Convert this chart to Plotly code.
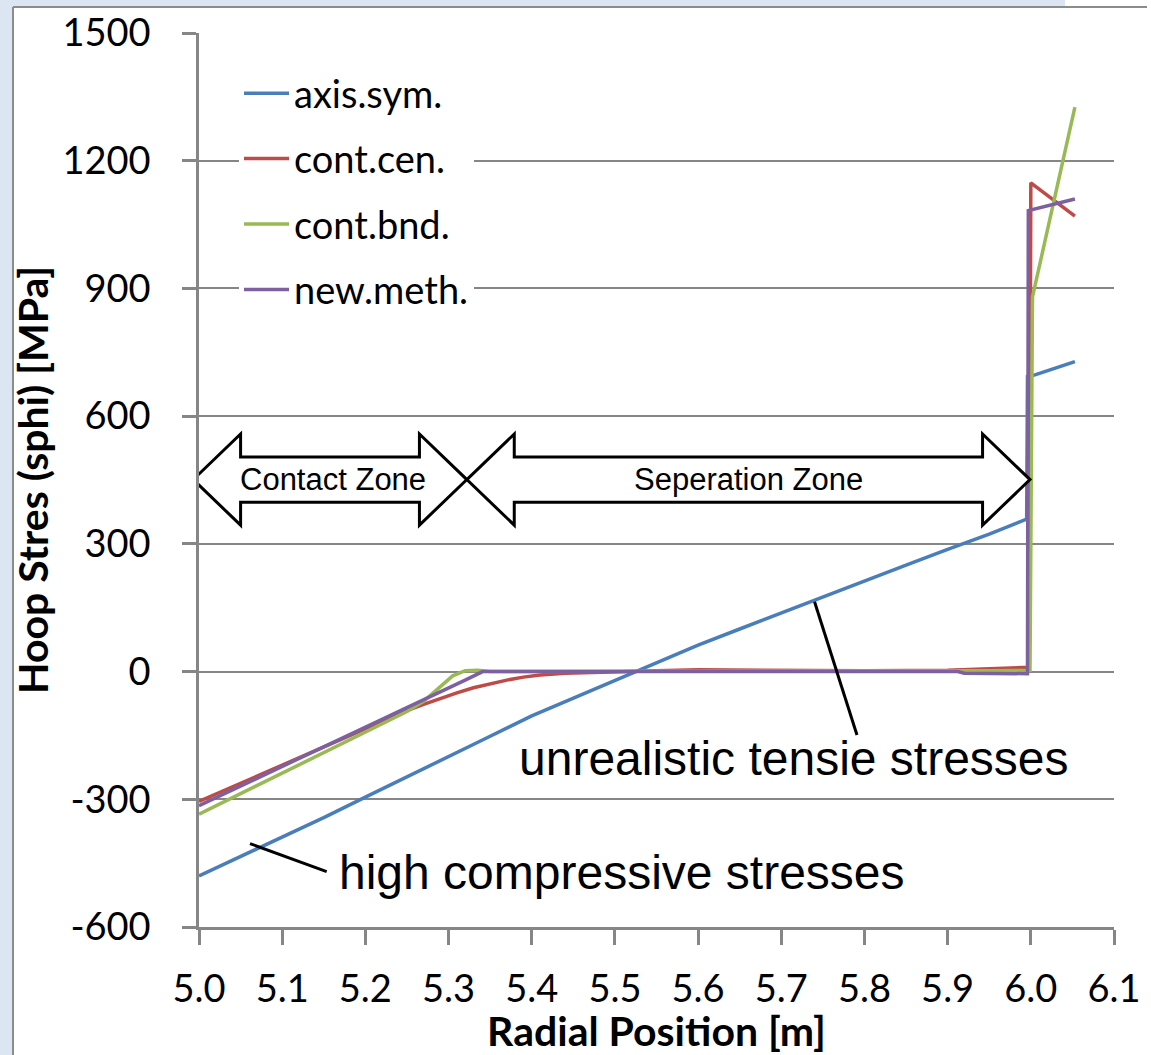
import plotly.graph_objects as go

# ---------------- data ----------------
axis_sym_x = [5.00, 5.05, 5.10, 5.15, 5.20, 5.25, 5.30, 5.35, 5.40, 5.45, 5.50, 5.55,
              5.60, 5.65, 5.70, 5.75, 5.80, 5.85, 5.90, 5.95, 5.995, 5.996, 6.005, 6.053]
axis_sym_y = [-480, -435, -390, -343, -295, -248, -200, -152, -104, -62, -22, 22,
              62, 100, 138, 176, 213, 250, 287, 323, 358, 693, 697, 728]

cont_cen_x = [5.00, 5.05, 5.10, 5.15, 5.20, 5.25, 5.27, 5.29, 5.31, 5.33, 5.35, 5.37,
              5.39, 5.41, 5.44, 5.47, 5.50, 5.55, 5.60, 5.65, 5.70, 5.80, 5.90, 5.95,
              5.998, 6.000, 6.053]
cont_cen_y = [-305, -262, -220, -177, -134, -92, -77, -63, -50, -38, -28, -20,
              -13, -8, -4, -2, 0, 2, 4, 3, 2, 2, 3, 6,
              10, 1148, 1070]

cont_bnd_x = [5.00, 5.05, 5.10, 5.15, 5.20, 5.25, 5.27, 5.29, 5.305, 5.32, 5.335, 5.35,
              5.50, 5.70, 5.90, 5.95, 5.999, 6.002, 6.053]
cont_bnd_y = [-335, -287, -239, -191, -143, -94, -70, -35, -10, 2, 3, 0,
              0, 0, 0, 2, 3, 880, 1326]

new_meth_x = [5.00, 5.05, 5.10, 5.15, 5.20, 5.25, 5.28, 5.30, 5.32, 5.341, 5.50, 5.70,
              5.912, 5.92, 5.996, 5.997, 6.053]
new_meth_y = [-315, -269, -224, -178, -132, -86, -58, -40, -20, 0, 0, 0,
              0, -4, -5, 1083, 1110]

series_names = ["axis.sym.", "cont.cen.", "cont.bnd.", "new.meth."]
series_colors = ["#4A7EBB", "#BE4B48", "#98B954", "#7D60A0"]

x_ticks = [5.0, 5.1, 5.2, 5.3, 5.4, 5.5, 5.6, 5.7, 5.8, 5.9, 6.0, 6.1]
y_ticks = [-600, -300, 0, 300, 600, 900, 1200, 1500]

# zone arrows (data units)
contact_zone = (4.993, 5.322)
separation_zone = (5.322, 5.999)
zone_y = 451
shaft_half = 53
head_half = 107
head_len = 0.057

# ---------------- figure ----------------
W, H = 1151, 1055
L, R, T, B = 199, 37, 33, 128
PW, PH = W - L - R, H - T - B


def px(xp):
    return (xp - L) / PW


def py(yp):
    return (H - B - yp) / PH


fig = go.Figure()
xs = [axis_sym_x, cont_cen_x, cont_bnd_x, new_meth_x]
ys = [axis_sym_y, cont_cen_y, cont_bnd_y, new_meth_y]
for name, col, xv, yv in zip(series_names, series_colors, xs, ys):
    fig.add_trace(go.Scatter(x=xv, y=yv, mode="lines", name=name, legendgroup=name,
                             line=dict(color=col, width=3.5)))

TICKFONT = dict(family="Lato", size=38, color="black")
TITLEFONT = dict(family="Lato", size=41, color="black")

fig.update_xaxes(range=[5.0, 6.1], tickvals=x_ticks, ticktext=[f"{v:.1f}" for v in x_ticks],
                 showgrid=False, zeroline=False, showline=True, linecolor="#868686", linewidth=2.5,
                 ticks="outside", ticklen=15, tickwidth=2.5, tickcolor="#868686",
                 tickfont=TICKFONT, ticklabelstandoff=12,
                 title=dict(text="<b>Radial Position [m]</b>", font=TITLEFONT, standoff=0))
fig.update_yaxes(range=[-600, 1500], tickvals=y_ticks, ticktext=[str(v) for v in y_ticks],
                 showgrid=True, gridcolor="#868686", gridwidth=1.5, zeroline=False,
                 showline=True, linecolor="#868686", linewidth=2.5,
                 ticks="outside", ticklen=14, tickwidth=2.5, tickcolor="#868686",
                 tickfont=TICKFONT, ticklabelstandoff=24,
                 title=dict(text="<b>Hoop Stres (sphi) [MPa]</b>", font=TITLEFONT, standoff=2))

shapes = []
# outer light-blue frame and grey border
shapes.append(dict(type="rect", xref="paper", yref="paper", x0=px(0), x1=px(13), y0=py(H), y1=py(0),
                   fillcolor="#DCE6F2", line=dict(width=0), layer="above"))
shapes.append(dict(type="rect", xref="paper", yref="paper", x0=px(0), x1=px(1065), y0=py(7), y1=py(0),
                   fillcolor="#DCE6F2", line=dict(width=0), layer="above"))
shapes.append(dict(type="line", xref="paper", yref="paper", x0=px(13), x1=px(13), y0=py(H), y1=py(7),
                   line=dict(color="#8C8C8C", width=2), layer="above"))
shapes.append(dict(type="line", xref="paper", yref="paper", x0=px(13), x1=px(1147), y0=py(7), y1=py(7),
                   line=dict(color="#8C8C8C", width=2), layer="above"))


def double_arrow(xa, xb):
    yc = zone_y
    pts = [(xa, yc), (xa + head_len, yc + head_half), (xa + head_len, yc + shaft_half),
           (xb - head_len, yc + shaft_half), (xb - head_len, yc + head_half), (xb, yc),
           (xb - head_len, yc - head_half), (xb - head_len, yc - shaft_half),
           (xa + head_len, yc - shaft_half), (xa + head_len, yc - head_half)]
    path = "M " + " L ".join(f"{x},{y}" for x, y in pts) + " Z"
    return dict(type="path", xref="x", yref="y", path=path, fillcolor="white",
                line=dict(color="black", width=3), layer="above")


shapes.append(double_arrow(*contact_zone))
shapes.append(double_arrow(*separation_zone))
# pointer lines
shapes.append(dict(type="line", xref="x", yref="y", x0=5.740, y0=164, x1=5.791, y1=-149,
                   line=dict(color="black", width=3)))
shapes.append(dict(type="line", xref="x", yref="y", x0=5.0613, y0=-404, x1=5.1535, y1=-470,
                   line=dict(color="black", width=3)))

annotations = [
    dict(x=sum(contact_zone) / 2 + 0.003, y=zone_y, text="Contact Zone", showarrow=False,
         font=dict(family="Liberation Sans", size=31, color="black")),
    dict(x=sum(separation_zone) / 2, y=zone_y, text="Seperation Zone", showarrow=False,
         font=dict(family="Liberation Sans", size=31, color="black")),
    dict(x=5.715, y=-205, text="unrealistic tensie stresses", showarrow=False,
         font=dict(family="Liberation Sans", size=48, color="black")),
    dict(x=5.508, y=-472, text="high compressive stresses", showarrow=False,
         font=dict(family="Liberation Sans", size=48, color="black")),
]

fig.update_layout(
    width=W, height=H, margin=dict(l=L, r=R, t=T, b=B, autoexpand=False),
    paper_bgcolor="white", plot_bgcolor="white",
    shapes=shapes, annotations=annotations,
    showlegend=True,
    legend=dict(x=px(239), y=py(62), xanchor="left", yanchor="top", bgcolor="white",
                borderwidth=0, traceorder="grouped", tracegroupgap=13, itemwidth=45,
                font=dict(family="Lato", size=38, color="black")),
)

fig.write_html("out.html", config={"displayModeBar": False},
               post_script="document.body.style.margin='0px';document.body.style.overflow='hidden';")
